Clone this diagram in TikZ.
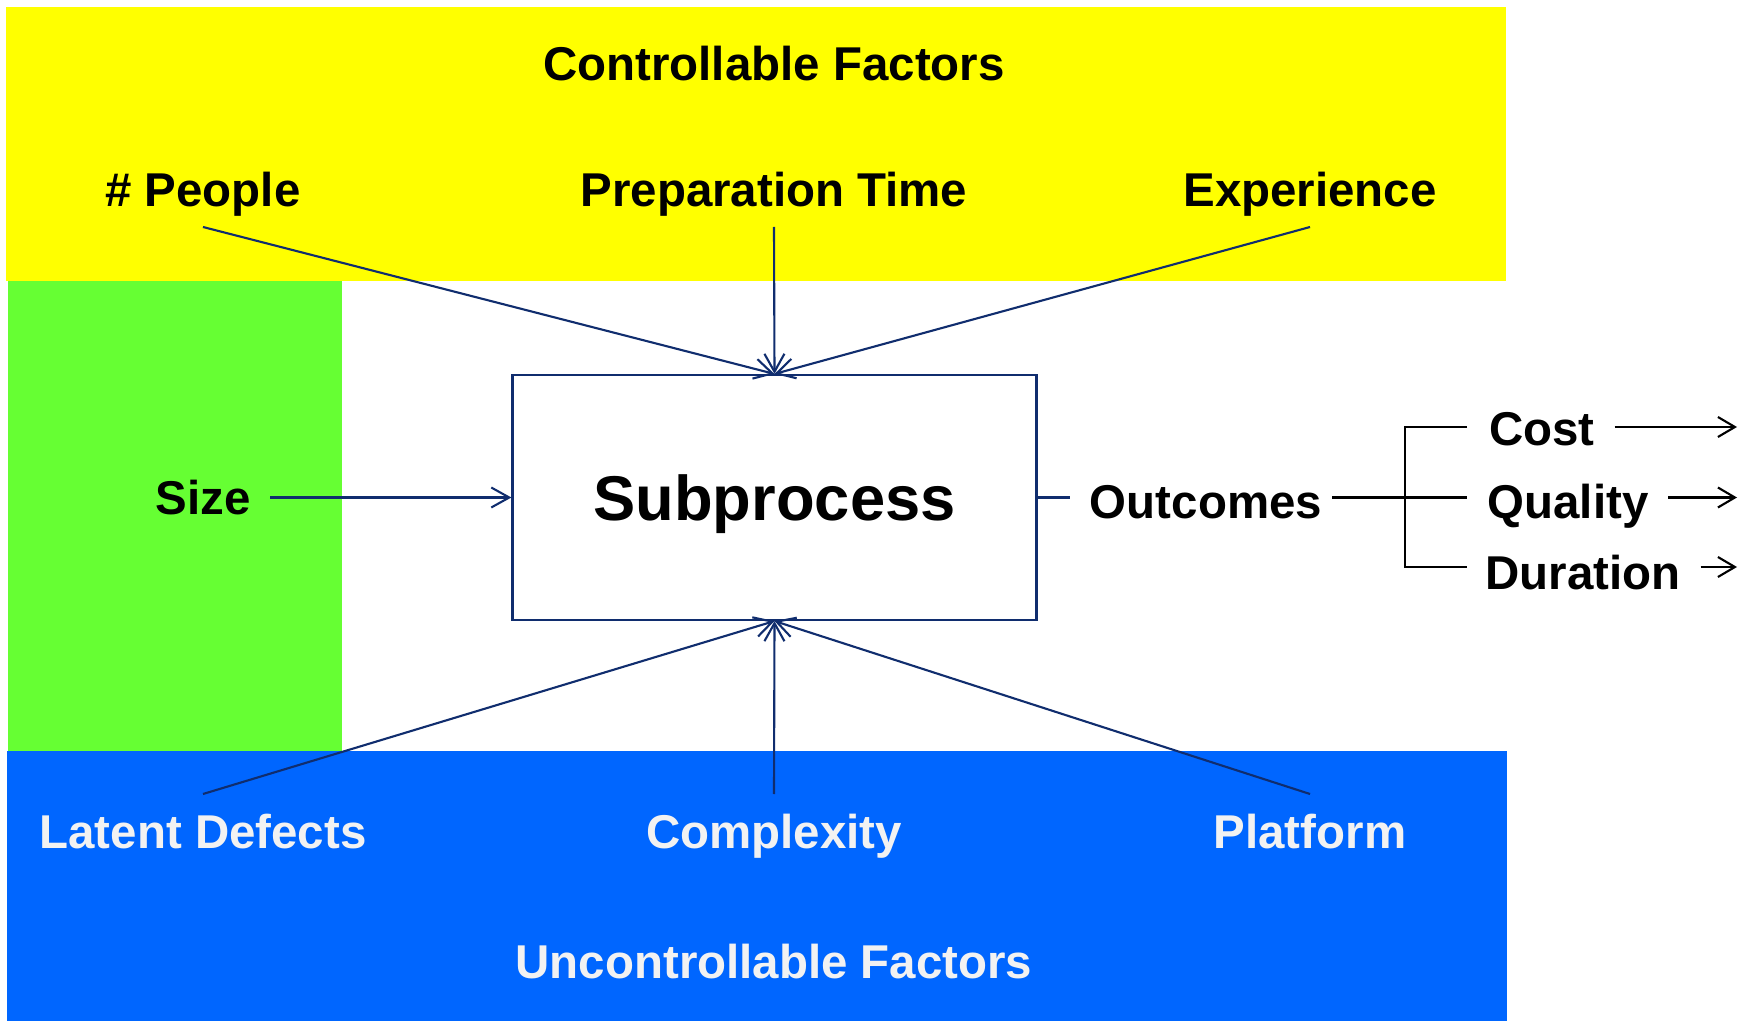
\documentclass[tikz,border=0pt]{standalone}
\usepackage{fontspec}
\setmainfont{Liberation Sans}
\usetikzlibrary{arrows.meta}
\definecolor{ctrlyellow}{RGB}{255,255,0}
\definecolor{sizegreen}{RGB}{102,255,51}
\definecolor{envblue}{RGB}{0,102,255}
\definecolor{linenavy}{RGB}{16,45,110}
\definecolor{paletext}{RGB}{242,242,242}

\begin{document}
\begin{tikzpicture}[
    lbl/.style={font=\bfseries\fontsize{13.5}{16}\selectfont, inner sep=0pt, outer sep=0.2cm, text height=0.34cm, text depth=0pt},
    inflow/.style={draw=linenavy, line width=0.6pt, -{Straight Barb[length=1.8mm, width=2mm]}},
    outflow/.style={draw=black, line width=0.6pt},
    outarrow/.style={outflow, -{Straight Barb[length=1.7mm, width=2mm]}}]
    \useasboundingbox (0,0) rectangle (17.51,10.21);

    % Factor regions
    \fill[ctrlyellow] (0.06,7.40) rectangle (15.06,10.14);
    \fill[sizegreen] (0.08,2.70) rectangle (3.42,7.40);
    \fill[envblue] (0.07,0) rectangle (15.07,2.70);

    % Subprocess
    \node[draw=linenavy, line width=0.6pt, fill=white, minimum width=5.24cm, minimum height=2.45cm, text height=0.455cm, text depth=0pt, font=\bfseries\fontsize{18}{22}\selectfont] (SUB) at (7.745,5.235) {Subprocess};

    % Controllable factors
    \node[lbl] (CTRL) at (7.74,9.57) {Controllable Factors};
    \node[lbl] (PEOPLE) at (2.03,8.31) {\# People};
    \node[lbl] (PREP) at (7.74,8.31) {Preparation Time};
    \node[lbl] (EXP) at (13.10,8.31) {Experience};

    % Size
    \node[lbl] (SIZE) at (2.03,5.235) {Size};

    % Uncontrollable factors
    \node[lbl, text=paletext] (LATENT) at (2.03,1.90) {Latent Defects};
    \node[lbl, text=paletext] (COMPLEX) at (7.74,1.90) {Complexity};
    \node[lbl, text=paletext] (PLAT) at (13.10,1.90) {Platform};
    \node[lbl, text=paletext] (UNCTRL) at (7.74,0.60) {Uncontrollable Factors};

    % Outcomes
    \node[lbl, outer sep=0.1cm] (OUT) at (12.06,5.20) {Outcomes};
    \node[lbl] (COST) at (15.42,5.92) {Cost};
    \node[lbl] (QUAL) at (15.68,5.19) {Quality};
    \node[lbl] (DUR) at (15.83,4.49) {Duration};
    \coordinate (FORK) at (14.05,5.235);
    \coordinate (CTICK) at (14.67,5.94);
    \coordinate (DTICK) at (14.67,4.54);
    \coordinate (RIM) at (17.37,0);

    % Inputs into the subprocess
    \draw[inflow] (PEOPLE.south) -- (SUB.north);
    \draw[inflow] (PREP.south) -- (SUB.north);
    \draw[inflow] (EXP.south) -- (SUB.north);
    \draw[inflow] (SIZE.east) -- (SUB.west);
    \draw[inflow] (LATENT.north) -- (SUB.south);
    \draw[inflow] (COMPLEX.north) -- (SUB.south);
    \draw[inflow] (PLAT.north) -- (SUB.south);

    % Outputs
    \draw[draw=linenavy, line width=0.6pt] (SUB.east) -- ([xshift=-1mm]SUB.east -| OUT.west);
    \draw[outflow] (OUT.east |- FORK) -- (CTICK |- FORK);
    \draw[outflow] (CTICK) -| (FORK) |- (DTICK);
    \draw[outarrow] (COST.east |- CTICK) -- (RIM |- CTICK);
    \draw[outarrow] (QUAL.east |- FORK) -- (RIM |- FORK);
    \draw[outarrow] (DUR.east |- DTICK) -- (RIM |- DTICK);
\end{tikzpicture}
\end{document}
